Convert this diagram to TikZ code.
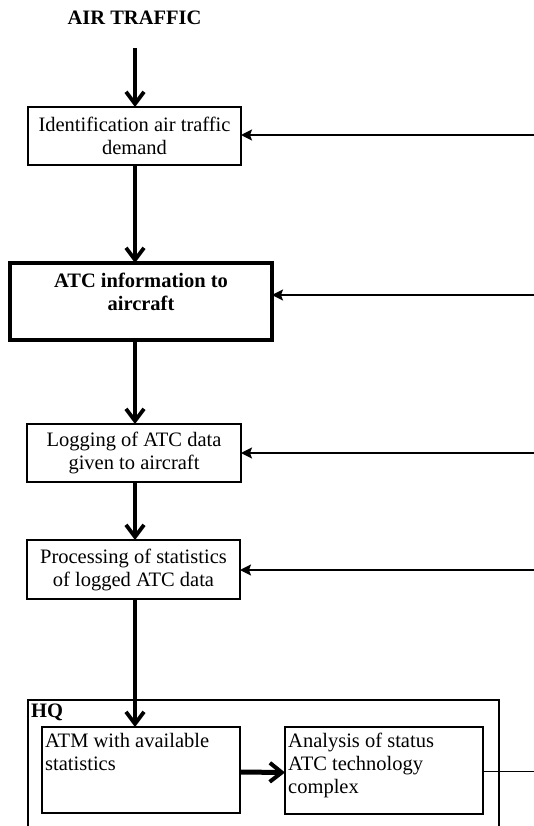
\documentclass[tikz,border=0pt]{standalone}
\usepackage{fontspec}
\setmainfont{Liberation Serif}
\usetikzlibrary{arrows.meta}
\begin{document}
\begin{tikzpicture}[x=1pt,y=-1pt,
  txt/.style={font=\fontsize{20.5}{23}\selectfont},
  btxt/.style={font=\fontsize{20.5}{23}\selectfont\bfseries},
  box/.style={draw, line width=2pt, rectangle, inner sep=0pt, outer sep=0pt, align=center, txt},
  flow/.style={line width=3.8pt, -{Straight Barb[length=12pt,width=18pt,line width=3.8pt]}},
  bigflow/.style={line width=5pt, -{Straight Barb[length=12pt,width=19pt,line width=4pt]}},
  feed/.style={line width=1.7pt, -{Stealth[length=11pt,width=11pt,inset=2pt]}},
  hair/.style={line width=0.8pt}]
\useasboundingbox (0,0) rectangle (534,826);

% title
\node[btxt, anchor=base] (air) at (134.5,25) {AIR TRAFFIC};

% boxes
\node[box, minimum width=213pt, minimum height=58pt] (b1) at (134.5,136) {Identification air traffic\\demand};
\node[box, line width=4.5pt, minimum width=262pt, minimum height=77pt] (b2) at (141,301.5) {};
\node[btxt, align=center, inner sep=0pt] (b2t) at (141,291.5) {ATC information to\\aircraft};
\node[box, minimum width=214pt, minimum height=58pt] (b3) at (134,453) {Logging of ATC data\\given to aircraft};
\node[box, minimum width=213pt, minimum height=59pt] (b4) at (133.5,569.5) {Processing of statistics\\of logged ATC data};

% HQ container
\coordinate (hqbl) at (28,826);
\coordinate (hqbr) at (499,826);
\draw[line width=1.8pt] (hqbl) |- (hqbr |- 0,700) -- (hqbr);
\node[btxt, anchor=base west, inner sep=0pt] (hq) at (31,717) {HQ};

\node[box, minimum width=198pt, minimum height=86pt] (atm) at (141,770) {};
\node[txt, anchor=north west, align=left, inner sep=0pt] (atmt) at (45,733.3) {ATM with available\\statistics};
\node[box, minimum width=198pt, minimum height=87pt] (ana) at (384,770.5) {};
\node[txt, anchor=north west, align=left, inner sep=0pt] (anat) at (288,733.3) {Analysis of status\\ATC technology\\complex};

% vertical flow
\coordinate (top) at (135,48);
\draw[flow] (top) -- (top |- b1.north);
\draw[flow] (b1.south -| top) -- (b2.north -| top);
\draw[flow] (b2.south -| top) -- (b3.north -| top);
\draw[flow] (b3.south -| top) -- (b4.north -| top);
\draw[flow] (b4.south -| top) -- (atm.north -| top);

% feedback arrows from the right
\coordinate (r1) at (534,135);
\coordinate (r2) at (534,295);
\coordinate (r3) at (534,453);
\coordinate (r4) at (534,570);
\coordinate (r5) at (534,771);
\draw[feed] (r1) -- (r1 -| b1.east);
\draw[feed] (r2) -- (r2 -| b2.east);
\draw[feed] (r3) -- (r3 -| b3.east);
\draw[feed] (r4) -- (r4 -| b4.east);

% HQ internal
\draw[bigflow] ([yshift=-2pt]atm.east) -- ([yshift=-2pt]ana.west);
\draw[hair] (r5 -| ana.east) -- (r5);
\end{tikzpicture}
\end{document}
